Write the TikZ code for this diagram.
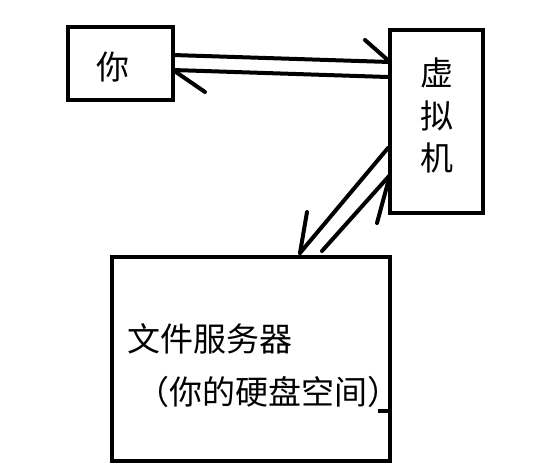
\documentclass[tikz,border=0pt]{standalone}
\usepackage{fontspec}
\setmainfont{Noto Sans CJK SC}
\begin{document}
\begin{tikzpicture}[x=1pt,y=-1pt,
  boxnode/.style={draw=black,line width=4.5pt,rectangle,inner sep=0pt,fill=none},
  txt/.style={inner sep=0pt,font=\fontsize{33pt}{40pt}\selectfont},
  conn/.style={draw=black,line width=4pt,line cap=round}]
\useasboundingbox[fill=white] (0,0) rectangle (546,474);
% boxes
\node[boxnode,minimum width=105pt,minimum height=73pt] (you) at (120.5,63.5) {};
\node[boxnode,minimum width=93pt,minimum height=183pt] (vm) at (436.5,121.5) {};
\node[boxnode,minimum width=278pt,minimum height=204pt] (fs) at (251,359) {};
% texts
\node[txt] (youtext) at (113,67) {你};
\node[txt] (vm1) at (437,73) {虚};
\node[txt] (vm2) at (437,116) {拟};
\node[txt] (vm3) at (437,158) {机};
\node[txt,anchor=west] (fs1) at (127,339) {文件服务器};
\node[txt,anchor=west] (fs2) at (136,392) {（你的硬盘空间）};
% connector end points
\coordinate (a1s) at (173,55);
\coordinate (a1e) at (390,62);
\coordinate (a1b) at (365,40);
\coordinate (a2s) at (388,77);
\coordinate (a2e) at (173,70);
\coordinate (a2b) at (205,92);
\coordinate (a3s) at (388,148);
\coordinate (a3e) at (300,253);
\coordinate (a3b) at (307,212);
\coordinate (a4s) at (322,251);
\coordinate (a4e) at (390,175);
\coordinate (a4b) at (377,223);
\coordinate (tick) at (378,411);
\coordinate (ticke) at (390,411);
% connectors
\draw[conn] (a1s) -- (a1e);
\draw[conn] (a1b) -- (a1e);
\draw[conn] (a2s) -- (a2e);
\draw[conn] (a2e) -- (a2b);
\draw[conn] (a3s) -- (a3e);
\draw[conn] (a3b) -- (a3e);
\draw[conn] (a4s) -- (a4e);
\draw[conn] (a4e) -- (a4b);
\draw[line width=4pt] (tick) -- (ticke);
\end{tikzpicture}
\end{document}
